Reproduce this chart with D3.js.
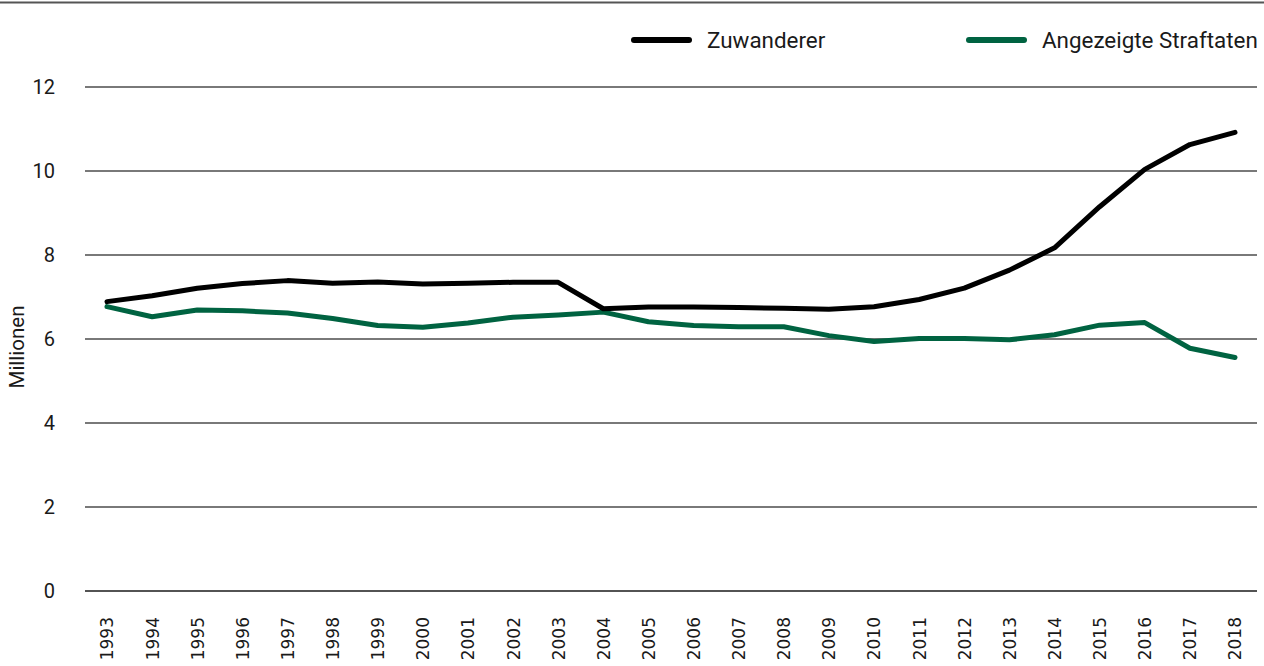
<!DOCTYPE html>
<html>
<head>
<meta charset="utf-8">
<script src="https://cdn.jsdelivr.net/npm/d3@7"></script>
<style>
  body { margin: 0; background: #fff; }
  svg { display: block; }
</style>
</head>
<body>
<script>
// data (Millionen)
var years = [1993, 1994, 1995, 1996, 1997, 1998, 1999, 2000, 2001, 2002, 2003, 2004, 2005,
             2006, 2007, 2008, 2009, 2010, 2011, 2012, 2013, 2014, 2015, 2016, 2017, 2018];
var zuwanderer = [6.89, 7.03, 7.21, 7.32, 7.39, 7.33, 7.36, 7.31, 7.33, 7.35, 7.35, 6.72, 6.76,
                  6.76, 6.75, 6.73, 6.71, 6.77, 6.94, 7.21, 7.64, 8.17, 9.15, 10.04, 10.63, 10.92];
var straftaten = [6.77, 6.53, 6.69, 6.67, 6.62, 6.49, 6.32, 6.28, 6.38, 6.52, 6.57, 6.64, 6.41,
                  6.32, 6.29, 6.29, 6.08, 5.94, 6.01, 6.01, 5.98, 6.10, 6.33, 6.39, 5.78, 5.56];
var yTicks = [0, 2, 4, 6, 8, 10, 12];
var seriesNames = ["Zuwanderer", "Angezeigte Straftaten"];
var seriesColors = ["#000000", "#006341"];

var width = 1264, height = 666;

var svg = d3.select("body").append("svg")
  .attr("width", width)
  .attr("height", height);

// scales
var x = d3.scalePoint()
  .domain(years)
  .range([107, 1235]);

var y = d3.scaleLinear()
  .domain([0, 12])
  .range([591, 87]);

// top rule
svg.append("line")
  .attr("x1", 0).attr("x2", width)
  .attr("y1", 2.5).attr("y2", 2.5)
  .attr("stroke", "#555")
  .attr("stroke-width", 2);

// gridlines
svg.append("g").selectAll("line")
  .data(yTicks)
  .enter().append("line")
  .attr("x1", 85).attr("x2", 1257)
  .attr("y1", function(d) { return y(d); })
  .attr("y2", function(d) { return y(d); })
  .attr("stroke", function(d) { return d === 0 ? "#1a1a1a" : "#4d4d4d"; })
  .attr("stroke-width", 1.5);

// y axis labels
var yAxis = d3.axisLeft(y).tickValues(yTicks).tickSize(0).tickPadding(0);
var yg = svg.append("g")
  .attr("transform", "translate(55,0)")
  .call(yAxis);
yg.select(".domain").remove();
yg.selectAll("text")
  .attr("font-family", "Roboto, sans-serif")
  .attr("font-size", 20)
  .attr("fill", "#1a1a1a");

// x axis labels
var xAxis = d3.axisBottom(x).tickSize(0).tickPadding(0);
var xg = svg.append("g")
  .attr("transform", "translate(0,617)")
  .call(xAxis);
xg.select(".domain").remove();
xg.selectAll("text")
  .attr("font-family", "'DejaVu Sans', sans-serif")
  .attr("font-size", 17)
  .attr("fill", "#1a1a1a")
  .attr("text-anchor", "end")
  .attr("dy", "0.35em")
  .attr("transform", "rotate(-90)");

// y title
svg.append("text")
  .attr("transform", "translate(24,347) rotate(-90)")
  .attr("text-anchor", "middle")
  .attr("font-family", "Roboto, sans-serif")
  .attr("font-size", 20.5)
  .attr("fill", "#1a1a1a")
  .text("Millionen");

// lines
var line = d3.line()
  .x(function(d, i) { return x(years[i]); })
  .y(function(d) { return y(d); });

[straftaten, zuwanderer].forEach(function(values, k) {
  var idx = k === 0 ? 1 : 0;
  svg.append("path")
    .datum(values)
    .attr("d", line)
    .attr("fill", "none")
    .attr("stroke", seriesColors[idx])
    .attr("stroke-width", 5)
    .attr("stroke-linejoin", "round")
    .attr("stroke-linecap", "round");
});

// legend
var legendX = [634, 969];
var legend = svg.append("g").selectAll("g")
  .data(seriesNames)
  .enter().append("g")
  .attr("transform", function(d, i) { return "translate(" + legendX[i] + ",40)"; });

legend.append("line")
  .attr("x1", 0).attr("x2", 55)
  .attr("stroke", function(d, i) { return seriesColors[i]; })
  .attr("stroke-width", 6)
  .attr("stroke-linecap", "round");

legend.append("text")
  .attr("x", 73)
  .attr("dy", "0.35em")
  .attr("font-family", "Roboto, sans-serif")
  .attr("font-size", 22.4)
  .attr("fill", "#1a1a1a")
  .text(function(d) { return d; });
</script>
</body>
</html>
